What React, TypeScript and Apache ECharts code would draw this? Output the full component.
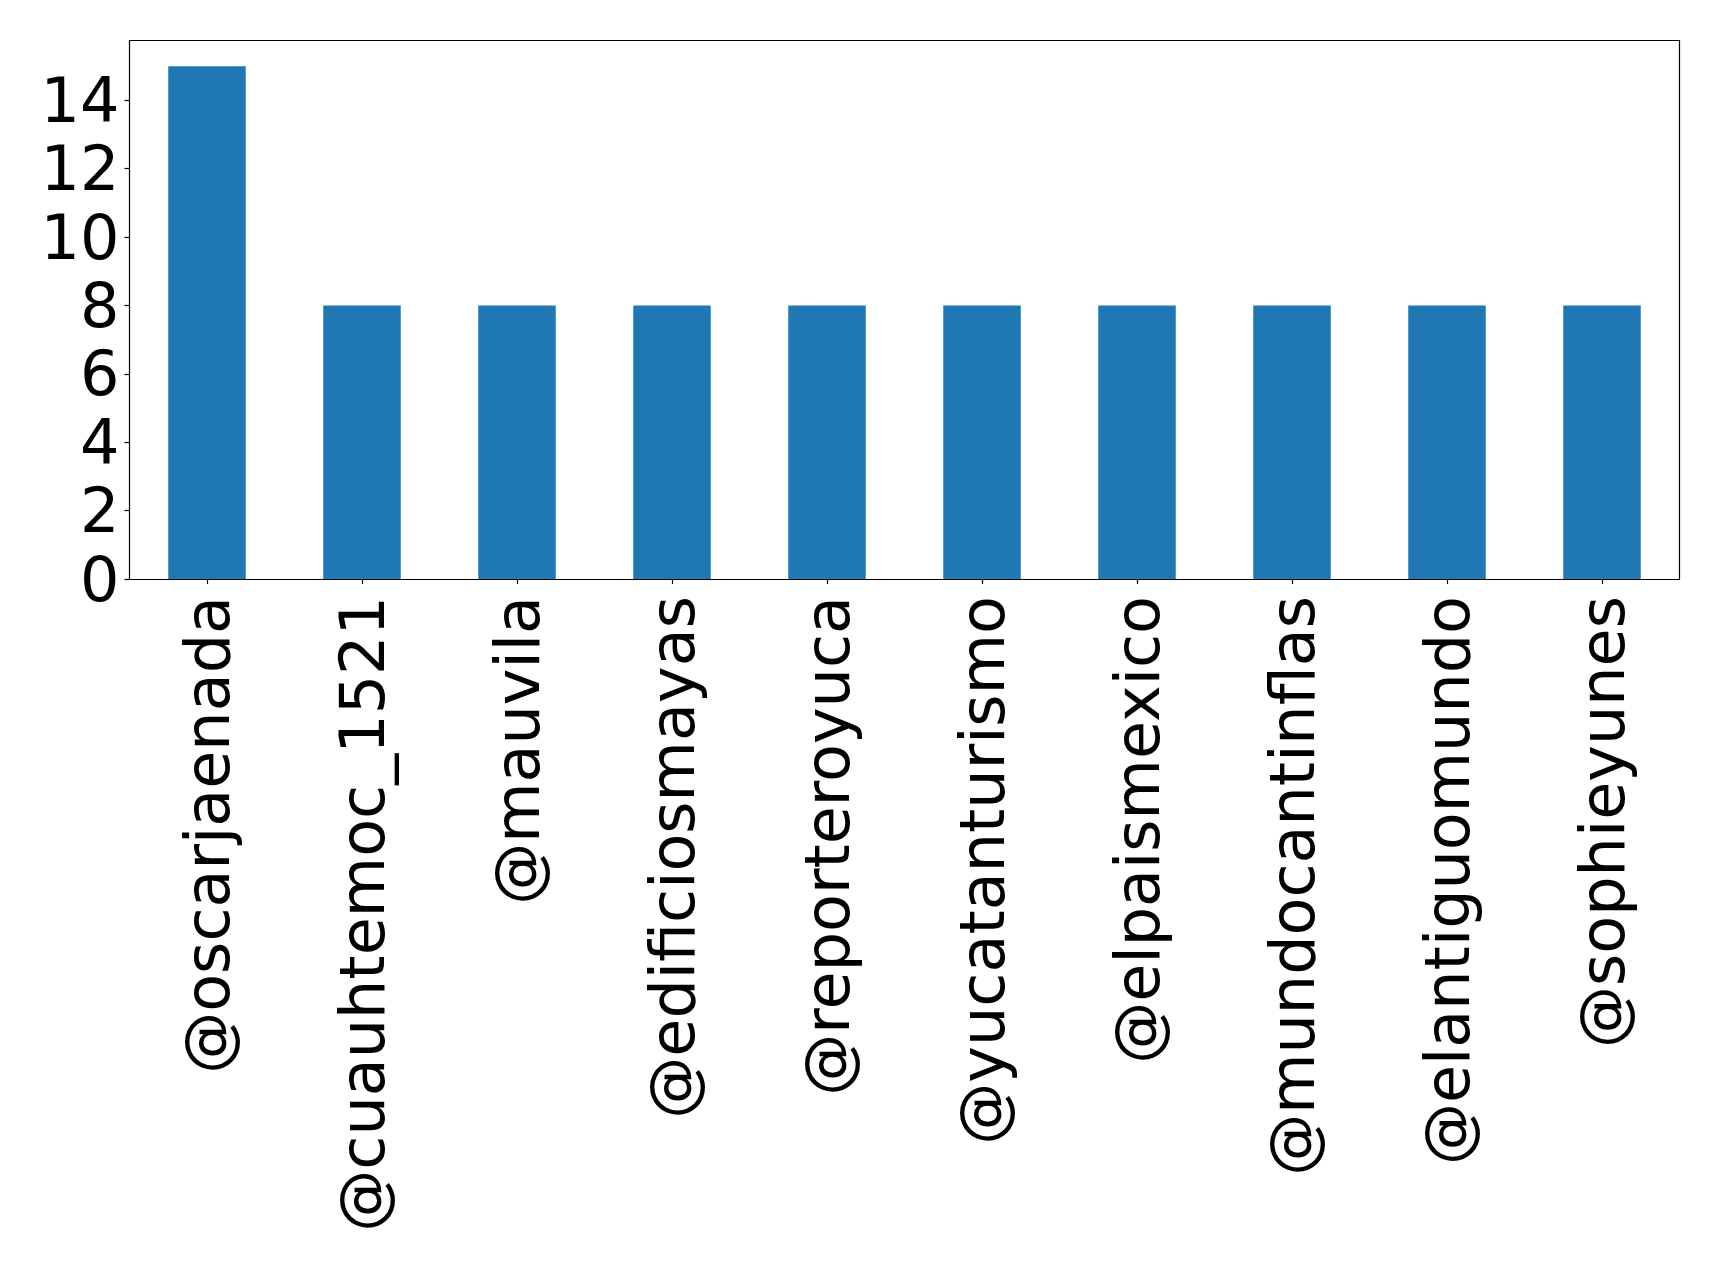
import React, { useEffect, useRef } from "react";
import * as echarts from "echarts";

const categories = [
  "@oscarjaenada",
  "@cuauhtemoc_1521",
  "@mauvila",
  "@edificiosmayas",
  "@reporteroyuca",
  "@yucatanturismo",
  "@elpaismexico",
  "@mundocantinflas",
  "@elantiguomundo",
  "@sophieyunes",
];
const counts = [15, 8, 8, 8, 8, 8, 8, 8, 8, 8];
const yTicks = [0, 2, 4, 6, 8, 10, 12, 14];
const yMax = 15.75;

const FONT = "DejaVu Sans";

export default function App() {
  const ref = useRef<HTMLDivElement>(null);
  useEffect(() => {
    if (!ref.current) return;
    const chart = echarts.init(ref.current, undefined, { renderer: "svg" });
    const lineStyle = { color: "#000", width: 1.2 };
    chart.setOption({
      animation: false,
      backgroundColor: "#fff",
      grid: {
        left: 129.5,
        top: 40.5,
        right: 39.5,
        bottom: 690,
        containLabel: false,
        outerBoundsMode: "none",
      },
      xAxis: [
        {
          type: "category",
          data: categories,
          boundaryGap: true,
          position: "bottom",
          axisLine: { show: true, onZero: false, lineStyle },
          axisTick: { show: true, alignWithLabel: true, length: 5, lineStyle },
          axisLabel: {
            rotate: 90,
            interval: 0,
            fontSize: 62,
            fontFamily: FONT,
            color: "#000",
            margin: 17,
          },
          splitLine: { show: false },
        },
        {
          type: "category",
          data: categories,
          position: "top",
          axisLine: { show: true, onZero: false, lineStyle },
          axisTick: { show: false },
          axisLabel: { show: false },
          splitLine: { show: false },
        },
      ],
      yAxis: [
        {
          type: "value",
          min: 0,
          max: yMax,
          interval: 2,
          position: "left",
          axisLine: { show: true, onZero: false, lineStyle },
          axisTick: { show: true, length: 5, lineStyle, customValues: yTicks },
          axisLabel: {
            fontSize: 62,
            fontFamily: FONT,
            color: "#000",
            margin: 10,
            customValues: yTicks,
          },
          splitLine: { show: false },
        },
        {
          type: "value",
          min: 0,
          max: yMax,
          position: "right",
          axisLine: { show: true, onZero: false, lineStyle },
          axisTick: { show: false },
          axisLabel: { show: false },
          splitLine: { show: false },
        },
      ],
      series: [
        {
          type: "bar",
          data: counts,
          barWidth: "50%",
          itemStyle: { color: "#1f77b4" },
          xAxisIndex: 0,
          yAxisIndex: 0,
        },
      ],
    });
    return () => chart.dispose();
  }, []);
  return (
    <div
      ref={ref}
      style={{ position: "fixed", left: 0, top: 0, width: 1719, height: 1269 }}
    />
  );
}
